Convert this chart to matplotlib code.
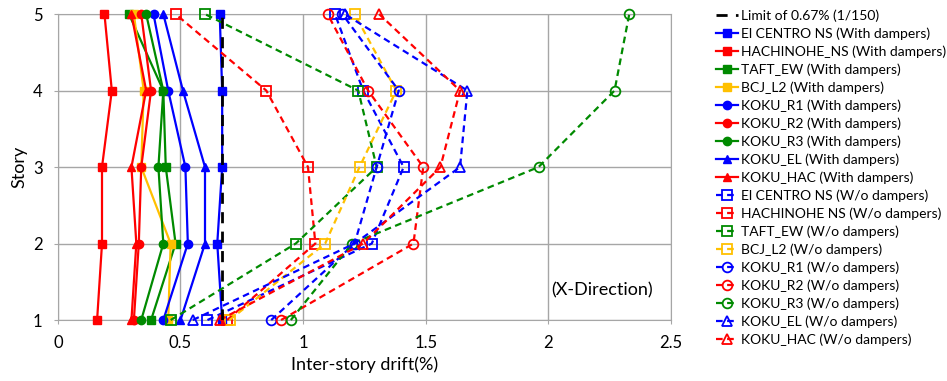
import matplotlib
matplotlib.use("Agg")
import matplotlib.pyplot as plt

plt.rcParams["font.family"] = ["Lato", "DejaVu Sans"]

stories = [1, 2, 3, 4, 5]
limit_drift = 0.67

# Con amortiguadores (lineas continuas, marcadores rellenos)
elcentro_with = [0.67, 0.65, 0.67, 0.67, 0.66]
hachinohe_with = [0.16, 0.18, 0.18, 0.22, 0.19]
taft_with = [0.38, 0.48, 0.44, 0.43, 0.29]
bcj_with = [0.45, 0.46, 0.34, 0.35, 0.31]
koku_r1_with = [0.43, 0.53, 0.52, 0.45, 0.39]
koku_r2_with = [0.31, 0.33, 0.34, 0.38, 0.34]
koku_r3_with = [0.34, 0.43, 0.41, 0.43, 0.36]
koku_el_with = [0.50, 0.60, 0.60, 0.51, 0.43]
koku_hac_with = [0.30, 0.32, 0.30, 0.36, 0.30]

# Sin amortiguadores (lineas discontinuas, marcadores huecos)
elcentro_wo = [0.61, 1.28, 1.41, 1.245, 1.13]
hachinohe_wo = [0.69, 1.05, 1.02, 0.85, 0.48]
taft_wo = [0.46, 0.97, 1.30, 1.225, 0.60]
bcj_wo = [0.70, 1.09, 1.23, 1.38, 1.21]
koku_r1_wo = [0.87, 1.21, 1.30, 1.39, 1.16]
koku_r2_wo = [0.91, 1.45, 1.49, 1.265, 1.10]
koku_r3_wo = [0.95, 1.20, 1.96, 2.27, 2.33]
koku_el_wo = [0.55, 1.21, 1.64, 1.67, 1.17]
koku_hac_wo = [0.66, 1.245, 1.56, 1.64, 1.31]

azul, rojo, verde, amarillo = "#0000FF", "#FF0000", "#008A00", "#FFC000"

series_with = [
    ("El CENTRO NS (With dampers)", elcentro_with, azul, "s"),
    ("HACHINOHE_NS (With dampers)", hachinohe_with, rojo, "s"),
    ("TAFT_EW (With dampers)", taft_with, verde, "s"),
    ("BCJ_L2 (With dampers)", bcj_with, amarillo, "s"),
    ("KOKU_R1 (With dampers)", koku_r1_with, azul, "o"),
    ("KOKU_R2 (With dampers)", koku_r2_with, rojo, "o"),
    ("KOKU_R3 (With dampers)", koku_r3_with, verde, "o"),
    ("KOKU_EL (With dampers)", koku_el_with, azul, "^"),
    ("KOKU_HAC (With dampers)", koku_hac_with, rojo, "^"),
]
series_wo = [
    ("El CENTRO NS (W/o dampers)", elcentro_wo, azul, "s"),
    ("HACHINOHE NS (W/o dampers)", hachinohe_wo, rojo, "s"),
    ("TAFT_EW (W/o dampers)", taft_wo, verde, "s"),
    ("BCJ_L2 (W/o dampers)", bcj_wo, amarillo, "s"),
    ("KOKU_R1 (W/o dampers)", koku_r1_wo, azul, "o"),
    ("KOKU_R2 (W/o dampers)", koku_r2_wo, rojo, "o"),
    ("KOKU_R3 (W/o dampers)", koku_r3_wo, verde, "o"),
    ("KOKU_EL (W/o dampers)", koku_el_wo, azul, "^"),
    ("KOKU_HAC (W/o dampers)", koku_hac_wo, rojo, "^"),
]

fig = plt.figure(figsize=(9.47, 3.81), dpi=100)
ax = fig.add_axes([0.0611, 0.160, 0.6474, 0.803])

ax.plot([limit_drift] * len(stories), stories, color="black", lw=2,
        ls=(0, (4, 3)), label="Limit of 0.67% (1/150)", zorder=4)

for nombre, valores, color, marca in series_with:
    ax.plot(valores, stories, color=color, marker=marca, ms=6, lw=1.6,
            label=nombre, clip_on=False, zorder=3)

for nombre, valores, color, marca in series_wo:
    ax.plot(valores, stories, color=color, marker=marca, ms=7, lw=1.6,
            ls=(0, (3, 2)), mfc="none", mew=1.3, label=nombre,
            clip_on=False, zorder=3)

ax.set_xlim(0, 2.5)
ax.set_ylim(1, 5)
ax.set_xticks([0, 0.5, 1, 1.5, 2, 2.5])
ax.set_xticklabels(["0", "0.5", "1", "1.5", "2", "2.5"])
ax.set_yticks(stories)
ax.grid(True, color="#A6A6A6", lw=1)
ax.set_axisbelow(True)
for lado in ax.spines.values():
    lado.set_color("#A6A6A6")
ax.tick_params(length=3, color="#A6A6A6", labelsize=12, pad=8)
ax.set_xlabel("Inter-story drift(%)", fontsize=13)
ax.set_ylabel("Story", fontsize=13, labelpad=4)
ax.text(0.97, 0.07, "(X-Direction)", transform=ax.transAxes, ha="right",
        va="bottom", fontsize=13)

fig.legend(loc="upper left", bbox_to_anchor=(0.7455, 1.0), frameon=False,
           fontsize=10, handlelength=1.6, handletextpad=0.2,
           labelspacing=0.39, borderaxespad=0.3)

fig.savefig("out.png", dpi=100)
